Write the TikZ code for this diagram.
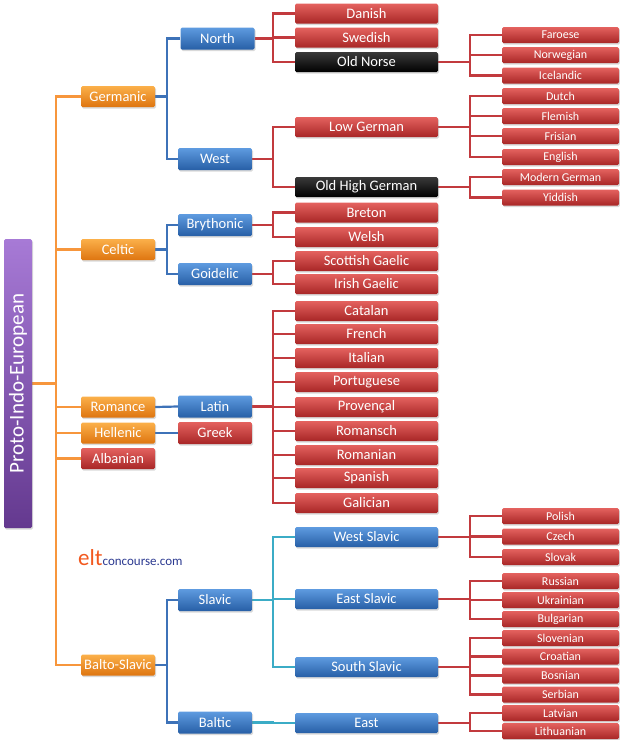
\documentclass[tikz,border=0pt]{standalone}
\usepackage{fontspec}
\setmainfont{Carlito}
\usetikzlibrary{shadows,backgrounds}
\definecolor{rTop}{HTML}{E4625F}
\definecolor{rBot}{HTML}{A82626}
\definecolor{bTop}{HTML}{5E9BE0}
\definecolor{bBot}{HTML}{275FA6}
\definecolor{oTop}{HTML}{FBB04A}
\definecolor{oBot}{HTML}{DE7510}
\definecolor{pTop}{HTML}{A77AD6}
\definecolor{pBot}{HTML}{64398F}
\definecolor{kTop}{HTML}{3A3A3A}
\definecolor{kBot}{HTML}{000000}
\definecolor{lnOrange}{HTML}{F7963C}
\definecolor{lnBlue}{HTML}{3D72B8}
\definecolor{lnRed}{HTML}{C23A3E}
\definecolor{lnTeal}{HTML}{3BACC6}
\definecolor{eltOrange}{HTML}{F2581E}
\definecolor{eltBlue}{HTML}{2B3990}
\tikzset{
  box/.style={rounded corners=1.5pt, text=white, inner sep=0pt,
    drop shadow={shadow xshift=1pt, shadow yshift=-1.5pt, opacity=0.3}},
  redbox/.style={box, top color=rTop, bottom color=rBot},
  bluebox/.style={box, top color=bTop, bottom color=bBot},
  orangebox/.style={box, top color=oTop, bottom color=oBot},
  blackbox/.style={box, top color=kTop, bottom color=kBot},
  purplebox/.style={box, top color=pTop, bottom color=pBot},
  lvA/.style={minimum width=74pt, minimum height=21pt, font=\fontsize{14.5}{15}\selectfont},
  lvB/.style={minimum width=74pt, minimum height=22pt, font=\fontsize{14.5}{15}\selectfont},
  lvC/.style={minimum width=143pt, minimum height=20pt, font=\fontsize{14.5}{15}\selectfont},
  lvD/.style={minimum width=117pt, minimum height=16pt, font=\fontsize{12}{13}\selectfont},
  conn/.style={line width=2.2pt},
  oline/.style={conn, draw=lnOrange},
  bline/.style={conn, draw=lnBlue},
  rline/.style={conn, draw=lnRed},
  tline/.style={conn, draw=lnTeal},
}
\begin{document}
\begin{tikzpicture}[x=1pt,y=-1pt]
\useasboundingbox (0,0) rectangle (620,740);
\coordinate (busA) at (56,0);
\coordinate (busB) at (167,0);
\coordinate (busC) at (273,0);
\coordinate (busD) at (470,0);

% root
\node[purplebox, rotate=90, minimum width=289pt, minimum height=28pt,
  font=\fontsize{21}{22}\selectfont] (PIE) at (18,383.5) {Proto-Indo-European};

% level 1
\node[orangebox,lvA] (Germanic) at (118,96.5) {Germanic};
\node[orangebox,lvA] (Celtic) at (118,249.5) {Celtic};
\node[orangebox,lvA] (Romance) at (118,407) {Romance};
\node[orangebox,lvA] (Hellenic) at (118,433) {Hellenic};
\node[redbox,lvA] (Albanian) at (118,458.5) {Albanian};
\node[orangebox,lvA] (BaltoSlavic) at (118,665) {Balto-Slavic};

% level 2
\node[bluebox,lvB] (North) at (217.5,38.5) {North};
\node[bluebox,lvB] (West) at (215,159) {West};
\node[bluebox,lvB] (Brythonic) at (215,225) {Brythonic};
\node[bluebox,lvB] (Goidelic) at (215,274) {Goidelic};
\node[bluebox,lvB] (Latin) at (215,406.5) {Latin};
\node[redbox,lvB] (Greek) at (215,433) {Greek};
\node[bluebox,lvB] (Slavic) at (215,600) {Slavic};
\node[bluebox,lvB] (Baltic) at (215,722.5) {Baltic};

% level 3
\node[redbox,lvC] (Danish) at (366.5,13.5) {Danish};
\node[redbox,lvC] (Swedish) at (366.5,37.5) {Swedish};
\node[blackbox,lvC] (OldNorse) at (366.5,62) {Old Norse};
\node[redbox,lvC] (LowGerman) at (366.5,127) {Low German};
\node[blackbox,lvC] (OHG) at (366.5,187) {Old High German};
\node[redbox,lvC] (Breton) at (366.5,212.5) {Breton};
\node[redbox,lvC] (Welsh) at (366.5,237) {Welsh};
\node[redbox,lvC] (ScotG) at (366.5,261) {Scottish Gaelic};
\node[redbox,lvC] (IrishG) at (366.5,284) {Irish Gaelic};
\node[redbox,lvC] (Catalan) at (366.5,311) {Catalan};
\node[redbox,lvC] (French) at (366.5,334) {French};
\node[redbox,lvC] (Italian) at (366.5,358) {Italian};
\node[redbox,lvC] (Portuguese) at (366.5,382) {Portuguese};
\node[redbox,lvC] (Provencal) at (366.5,407) {Provençal};
\node[redbox,lvC] (Romansch) at (366.5,431) {Romansch};
\node[redbox,lvC] (Romanian) at (366.5,455) {Romanian};
\node[redbox,lvC] (Spanish) at (366.5,478) {Spanish};
\node[redbox,lvC] (Galician) at (366.5,503) {Galician};
\node[bluebox,lvC] (WestSlavic) at (366.5,537) {West Slavic};
\node[bluebox,lvC] (EastSlavic) at (366.5,599) {East Slavic};
\node[bluebox,lvC] (SouthSlavic) at (366.5,667) {South Slavic};
\node[bluebox,lvC] (East) at (366.5,723) {East};

% level 4
\node[redbox,lvD] (Faroese) at (560.5,35) {Faroese};
\node[redbox,lvD] (Norwegian) at (560.5,55) {Norwegian};
\node[redbox,lvD] (Icelandic) at (560.5,75.5) {Icelandic};
\node[redbox,lvD] (Dutch) at (560.5,96) {Dutch};
\node[redbox,lvD] (Flemish) at (560.5,116) {Flemish};
\node[redbox,lvD] (Frisian) at (560.5,136) {Frisian};
\node[redbox,lvD] (English) at (560.5,157) {English};
\node[redbox,lvD] (ModernGerman) at (560.5,177) {Modern German};
\node[redbox,lvD] (Yiddish) at (560.5,197.5) {Yiddish};
\node[redbox,lvD] (Polish) at (560.5,516) {Polish};
\node[redbox,lvD] (Czech) at (560.5,536.5) {Czech};
\node[redbox,lvD] (Slovak) at (560.5,557) {Slovak};
\node[redbox,lvD] (Russian) at (560.5,581) {Russian};
\node[redbox,lvD] (Ukrainian) at (560.5,600) {Ukrainian};
\node[redbox,lvD] (Bulgarian) at (560.5,619) {Bulgarian};
\node[redbox,lvD] (Slovenian) at (560.5,638) {Slovenian};
\node[redbox,lvD] (Croatian) at (560.5,656.5) {Croatian};
\node[redbox,lvD] (Bosnian) at (560.5,675.5) {Bosnian};
\node[redbox,lvD] (Serbian) at (560.5,694.5) {Serbian};
\node[redbox,lvD] (Latvian) at (560.5,713) {Latvian};
\node[redbox,lvD] (Lithuanian) at (560.5,731) {Lithuanian};

% watermark
\node[anchor=base west, inner sep=0pt] (wm) at (78,565)
  {\fontsize{23}{23}\selectfont\color{eltOrange}elt\fontsize{13}{13}\selectfont\color{eltBlue}concourse.com};

\begin{scope}[on background layer]
\foreach \c in {Germanic,Celtic,Romance,Hellenic,Albanian,BaltoSlavic}
  \draw[oline] (PIE.south) -- (PIE.south -| busA) |- (\c.west);
\foreach \p/\c in {Germanic/North,Germanic/West,Celtic/Brythonic,Celtic/Goidelic,BaltoSlavic/Slavic,BaltoSlavic/Baltic}
  \draw[bline] (\p.east) -- (\p.east -| busB) |- (\c.west);
\draw[bline] (Romance.east) -- (Latin.west);
\draw[bline] (Hellenic.east) -- (Greek.west);
\foreach \p/\c in {North/Danish,North/Swedish,North/OldNorse,West/LowGerman,West/OHG,
  Brythonic/Breton,Brythonic/Welsh,Goidelic/ScotG,Goidelic/IrishG,
  Latin/Catalan,Latin/French,Latin/Italian,Latin/Portuguese,Latin/Provencal,
  Latin/Romansch,Latin/Romanian,Latin/Spanish,Latin/Galician}
  \draw[rline] (\p.east) -- (\p.east -| busC) |- (\c.west);
\foreach \p/\c in {Slavic/WestSlavic,Slavic/EastSlavic,Slavic/SouthSlavic,Baltic/East}
  \draw[tline] (\p.east) -- (\p.east -| busC) |- (\c.west);
\foreach \p/\c in {OldNorse/Faroese,OldNorse/Norwegian,OldNorse/Icelandic,
  LowGerman/Dutch,LowGerman/Flemish,LowGerman/Frisian,LowGerman/English,
  OHG/ModernGerman,OHG/Yiddish,
  WestSlavic/Polish,WestSlavic/Czech,WestSlavic/Slovak,
  EastSlavic/Russian,EastSlavic/Ukrainian,EastSlavic/Bulgarian,
  SouthSlavic/Slovenian,SouthSlavic/Croatian,SouthSlavic/Bosnian,SouthSlavic/Serbian,
  East/Latvian,East/Lithuanian}
  \draw[rline] (\p.east) -- (\p.east -| busD) |- (\c.west);
\end{scope}
\end{tikzpicture}
\end{document}
